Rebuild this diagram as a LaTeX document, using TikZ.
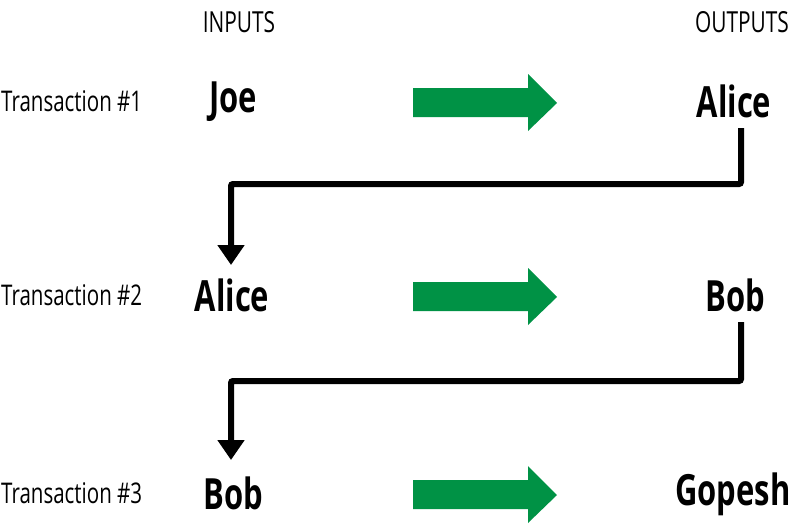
\documentclass[tikz,border=0pt]{standalone}
\usepackage{fontspec}
\setmainfont{Open Sans}[FakeStretch=0.72]
\usetikzlibrary{arrows.meta}
\definecolor{arrowgreen}{HTML}{009245}
\begin{document}
\begin{tikzpicture}[x=1pt,y=-1pt,
  hdr/.style={font=\fontsize{29}{32}\selectfont, inner sep=0pt},
  txlabel/.style={font=\fontsize{28.5}{31}\selectfont, anchor=west, inner sep=0pt},
  party/.style={font=\fontsize{43}{47}\selectfont\bfseries, inner sep=0pt},
  flow/.style={line width=6pt, -{Triangle[length=20pt,width=26pt]}, rounded corners=2pt},
  bigarrow/.style={fill=arrowgreen, draw=none}]
\useasboundingbox (0,0) rectangle (811,528);
\node[hdr] (in) at (239,22) {INPUTS};
\node[hdr] (out) at (742,22) {OUTPUTS};
\node[txlabel] (t1) at (1,101) {Transaction \#1};
\node[txlabel] (t2) at (1,295) {Transaction \#2};
\node[txlabel] (t3) at (1,493) {Transaction \#3};
\node[party] (joe) at (233,102) {Joe};
\node[party] (alice1) at (734,101) {Alice};
\node[party] (alice2) at (232,295) {Alice};
\node[party] (bob1) at (735,295) {Bob};
\node[party] (bob2) at (233,493) {Bob};
\node[party] (gopesh) at (733,494) {Gopesh};
\foreach \yy in {0,194,392} {
  \fill[bigarrow] (413,88+\yy) -- (528,88+\yy) -- (528,74+\yy) -- (557,103+\yy) -- (528,131+\yy) -- (528,117+\yy) -- (413,117+\yy) -- cycle;
}
\coordinate (c1a) at (741,128);
\coordinate (c1b) at (741,184);
\coordinate (c1c) at (231,184);
\coordinate (c1d) at (231,265);
\draw[flow] (c1a) -- (c1b) -- (c1c) -- (c1d);
\coordinate (c2a) at (741,322);
\coordinate (c2b) at (741,381);
\coordinate (c2c) at (231,381);
\coordinate (c2d) at (231,460);
\draw[flow] (c2a) -- (c2b) -- (c2c) -- (c2d);
\end{tikzpicture}
\end{document}
